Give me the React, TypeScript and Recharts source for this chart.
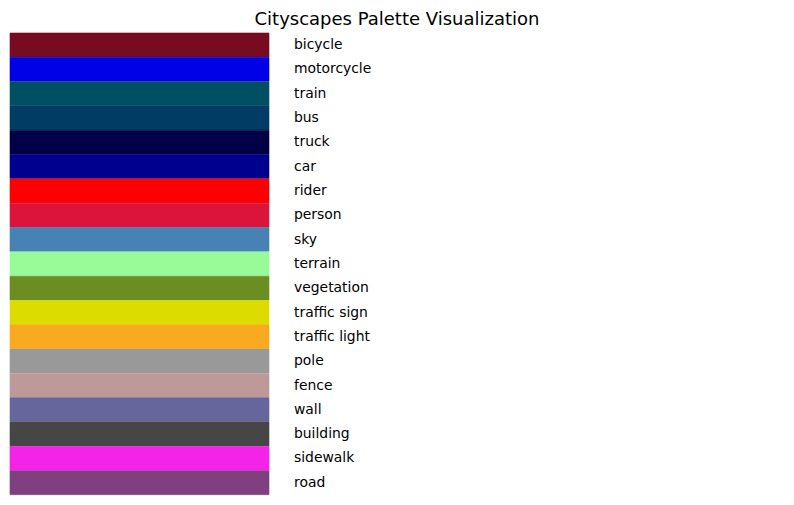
import React from 'react';
import { BarChart, Bar, XAxis, YAxis, Cell } from 'recharts';

const classNames = [
  'bicycle', 'motorcycle', 'train', 'bus', 'truck', 'car', 'rider', 'person', 'sky', 'terrain',
  'vegetation', 'traffic sign', 'traffic light', 'pole', 'fence', 'wall', 'building', 'sidewalk', 'road',
];

const classColors = [
  '#770B20', '#0000E6', '#005064', '#003C64', '#000046', '#00008E', '#FF0000', '#DC143C', '#4682B4',
  '#98FB98', '#6B8E23', '#DCDC00', '#FAAA1E', '#999999', '#BE9999', '#66669C', '#464646', '#F423E8',
  '#804080',
];

const swatchValues = classNames.map(() => 1);

const data = classNames.map((name, i) => ({ name, value: swatchValues[i] }));

const font = 'DejaVu Sans, sans-serif';

export default function App() {
  return (
    <div style={{ position: 'relative', width: 786, height: 497, fontFamily: font }}>
      <div
        style={{
          position: 'absolute',
          top: 0,
          left: 0,
          width: 778,
          textAlign: 'center',
          fontSize: 18,
          lineHeight: '22px',
          color: '#000',
        }}
      >
        Cityscapes Palette Visualization
      </div>
      <BarChart
        width={786}
        height={497}
        data={data}
        layout="vertical"
        barCategoryGap={0}
        barGap={0}
        margin={{ top: 25, right: 0, left: 2, bottom: 10 }}
      >
        <XAxis type="number" domain={[0, 1]} hide />
        <YAxis
          type="category"
          dataKey="name"
          orientation="right"
          width={525}
          axisLine={false}
          tickLine={false}
          tickSize={0}
          tickMargin={25}
          interval={0}
          tick={{ fill: '#000', fontSize: 13.9, fontFamily: font, textAnchor: 'start', dy: -1 }}
        />
        <Bar dataKey="value" isAnimationActive={false}>
          {data.map((d, i) => (
            <Cell key={d.name} fill={classColors[i]} stroke={classColors[i]} strokeWidth={0.6} />
          ))}
        </Bar>
      </BarChart>
    </div>
  );
}
